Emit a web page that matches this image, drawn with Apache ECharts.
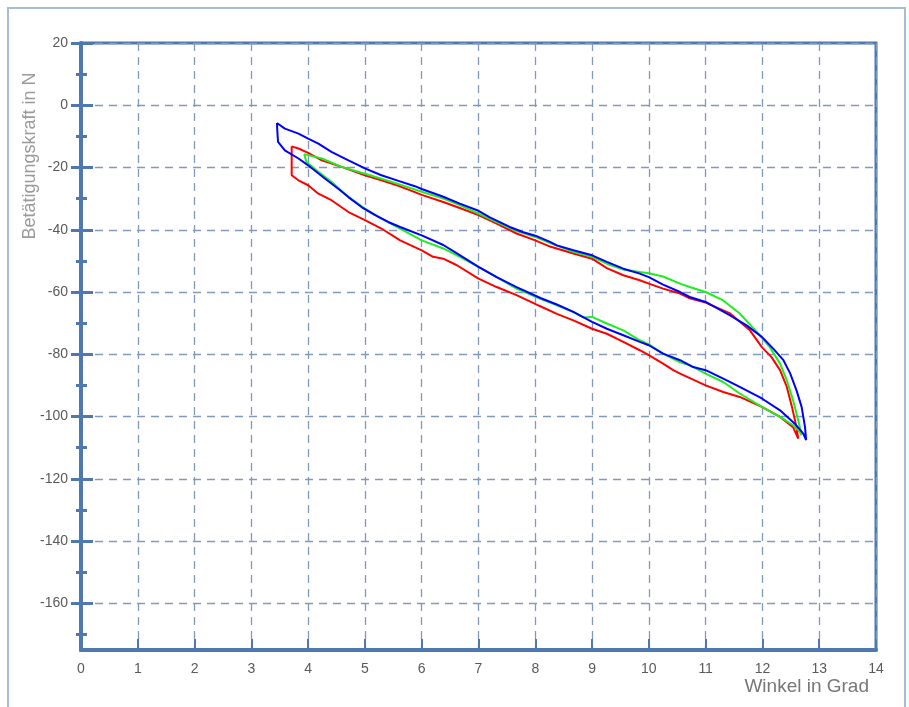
<!DOCTYPE html>
<html>
<head>
<meta charset="utf-8">
<script src="https://cdn.jsdelivr.net/npm/echarts@6/dist/echarts.min.js"></script>
<style>
html,body{margin:0;padding:0;background:#fff;}
#chart{width:909px;height:707px;}
</style>
</head>
<body>
<div id="chart"></div>
<script>
// Axis ticks
var xTicks = [0,1,2,3,4,5,6,7,8,9,10,11,12,13,14];
var yMajor = [-160,-140,-120,-100,-80,-60,-40,-20,0,20];
var yMinor = [-170,-150,-130,-110,-90,-70,-50,-30,-10,10];

// Red loop (Winkel in Grad, Betätigungskraft in N)
var redX = [3.71,3.83,4.0,4.24,4.59,5.0,5.29,5.59,5.88,6.0,6.38,6.67,7.0,7.32,7.67,8.0,8.26,8.67,9.0,9.26,9.55,9.84,10.0,10.25,10.55,10.72,11.0,11.43,11.78,11.99,12.16,12.31,12.43,12.52,12.6,12.63,
            12.54,12.31,11.99,11.6,11.31,11.0,10.55,10.43,10.25,10.0,9.84,9.55,9.26,9.0,8.67,8.38,8.08,7.67,7.32,7.0,6.62,6.38,6.2,6.0,5.62,5.29,5.0,4.71,4.41,4.18,4.0,3.83,3.71,3.71];
var redY = [-13.2,-13.9,-15.3,-17.7,-19.8,-22.5,-24.1,-25.9,-27.9,-28.8,-31.1,-33.0,-35.3,-38.0,-41.2,-43.4,-45.4,-47.6,-49.3,-52.3,-54.6,-56.2,-57.3,-58.9,-60.5,-62.0,-63.4,-66.9,-72.3,-77.7,-80.9,-85.1,-90.5,-96.9,-103.4,-107.1,
            -103.4,-100.1,-96.9,-93.7,-92.1,-90.0,-86.2,-85.1,-83.0,-80.3,-78.7,-76.0,-73.4,-71.8,-69.1,-67.0,-64.5,-61.0,-58.4,-55.7,-51.4,-49.3,-48.7,-46.6,-43.4,-39.6,-36.9,-34.3,-30.5,-28.4,-25.7,-24.1,-22.5,-13.2];

// Green loop
var greenX = [3.93,4.24,4.59,5.0,5.29,5.62,6.0,6.38,6.67,7.0,7.32,7.67,8.0,8.26,8.67,9.0,9.26,9.55,9.84,10.0,10.25,10.55,10.72,11.0,11.31,11.6,11.9,12.13,12.31,12.43,12.54,12.63,12.69,
              12.66,12.54,12.31,11.99,11.6,11.31,11.0,10.72,10.55,10.25,10.0,9.84,9.55,9.26,9.0,8.85,8.67,8.38,8.08,7.67,7.32,7.0,6.62,6.38,6.0,5.62,5.29,5.0,4.71,4.41,4.18,3.97,3.93];
var greenY = [-15.7,-17.1,-19.8,-22.0,-23.6,-25.5,-27.8,-30.0,-32.1,-34.8,-37.5,-40.4,-42.3,-44.3,-47.1,-48.7,-50.9,-52.8,-53.6,-54.0,-55.0,-57.3,-58.4,-60.0,-62.7,-66.9,-72.8,-77.7,-83.0,-88.4,-94.8,-101.2,-106.0,
              -105.0,-102.8,-100.1,-96.9,-92.6,-88.9,-86.2,-83.5,-82.6,-79.8,-76.8,-75.5,-72.3,-70.1,-68.0,-68.2,-66.4,-64.3,-62.1,-58.9,-55.2,-51.9,-48.2,-46.0,-43.4,-39.6,-36.4,-33.2,-29.5,-24.6,-21.4,-18.2,-15.7];

// Blue loop
var blueX = [3.45,3.59,3.83,4.0,4.18,4.41,4.71,5.0,5.29,5.59,5.88,6.0,6.38,6.67,7.0,7.2,7.55,7.79,8.0,8.26,8.38,8.67,9.0,9.26,9.55,9.84,10.0,10.25,10.55,10.72,11.0,11.43,11.72,11.99,12.19,12.37,12.49,12.6,12.69,12.75,12.77,
             12.72,12.57,12.31,11.99,11.6,11.31,11.0,10.78,10.55,10.25,10.0,9.84,9.55,9.26,9.0,8.67,8.38,8.1,7.67,7.32,7.0,6.62,6.38,6.0,5.62,5.41,5.18,4.94,4.71,4.53,4.3,4.0,3.83,3.59,3.47,3.46,3.45];
var blueY = [-5.7,-7.5,-9.1,-10.7,-12.3,-15.0,-17.7,-20.3,-22.5,-24.3,-26.0,-26.9,-29.4,-31.6,-33.9,-36.0,-39.1,-40.8,-41.9,-43.9,-45.0,-46.6,-48.2,-50.3,-52.5,-54.1,-55.2,-57.6,-60.0,-61.6,-63.2,-67.5,-70.7,-74.4,-78.2,-81.9,-86.2,-91.6,-96.9,-103.4,-107.6,
             -105.5,-102.3,-98.0,-94.2,-90.5,-87.8,-85.1,-84.1,-81.9,-79.8,-77.1,-76.0,-73.9,-71.8,-69.6,-66.4,-64.0,-62.0,-58.4,-55.2,-51.9,-47.6,-44.9,-41.8,-39.1,-37.5,-35.3,-32.7,-29.5,-26.8,-23.6,-19.3,-17.1,-14.5,-11.8,-9.1,-5.7];

function pairs(xs, ys){ var out=[]; for(var i=0;i<xs.length;i++){ out.push([xs[i], ys[i]]); } return out; }

var axisColor = '#4f78b0';
var gridColor = '#8299be';
var labelColor = '#5a5a5a';
var fontFam = '"Liberation Sans", Arial, sans-serif';

function yAx(opts){
  var base = {
    type:'value', min:-175, max:20, position:'left',
    axisLine:{show:false, onZero:false}, axisLabel:{show:false}, splitLine:{show:false},
    axisTick:{show:false}
  };
  for (var k in opts) base[k]=opts[k];
  return base;
}

var chart = echarts.init(document.getElementById('chart'), null, {renderer:'canvas'});
chart.setOption({
  animation:false,
  backgroundColor:'#ffffff',
  grid:{left:81, right:33, top:43, bottom:57, show:true, borderColor:axisColor, borderWidth:3, backgroundColor:'transparent'},
  graphic:[
    {type:'rect', shape:{x:8, y:8, width:897, height:720}, style:{fill:'none', stroke:'#a7bcd8', lineWidth:2}, z:-10},
    {type:'text', x:30, y:156, rotation:Math.PI/2,
     style:{text:'Betätigungskraft in N', font:'18px "Liberation Sans", Arial, sans-serif', fill:'#9a9a9a', align:'center', verticalAlign:'middle'}}
  ],
  xAxis:[{
    type:'value', min:0, max:14, interval:1, position:'bottom',
    name:'Winkel in Grad', nameLocation:'end', nameGap:0,
    nameTextStyle:{color:'#777', fontSize:19, fontFamily:fontFam, align:'right', verticalAlign:'top', padding:[27,7,0,0]},
    axisLine:{show:true, onZero:false, lineStyle:{color:axisColor, width:4}},
    axisTick:{show:true, inside:true, length:11, lineStyle:{color:axisColor, width:2}},
    axisLabel:{color:labelColor, fontSize:14, fontFamily:fontFam, margin:12},
    splitLine:{show:true, lineStyle:{color:gridColor, width:1.3, type:[8,6]}}
  }],
  yAxis:[
    yAx({
      splitNumber:10,
      axisLine:{show:true, onZero:false, lineStyle:{color:axisColor, width:4}},
      axisTick:{show:true, customValues:yMajor, length:10, lineStyle:{color:axisColor, width:3}},
      axisLabel:{show:true, customValues:yMajor, color:labelColor, fontSize:14, fontFamily:fontFam, margin:13},
      splitLine:{show:true, lineStyle:{color:gridColor, width:1.3, type:[8,6]}}
    }),
    yAx({axisTick:{show:true, inside:true, customValues:yMajor, length:12, lineStyle:{color:axisColor, width:3}}}),
    yAx({axisTick:{show:true, customValues:yMinor, length:5, lineStyle:{color:axisColor, width:3}}}),
    yAx({axisTick:{show:true, inside:true, customValues:yMinor, length:6, lineStyle:{color:axisColor, width:3}}})
  ],
  series:[
    {type:'line', name:'rot', data:pairs(redX, redY), showSymbol:false, symbol:'none', lineStyle:{color:'#ff0000', width:2}, z:3},
    {type:'line', name:'grün', data:pairs(greenX, greenY), showSymbol:false, symbol:'none', lineStyle:{color:'#1eee1e', width:2}, z:4},
    {type:'line', name:'blau', data:pairs(blueX, blueY), showSymbol:false, symbol:'none', lineStyle:{color:'#0000ff', width:2}, z:5}
  ]
});
</script>
</body>
</html>
